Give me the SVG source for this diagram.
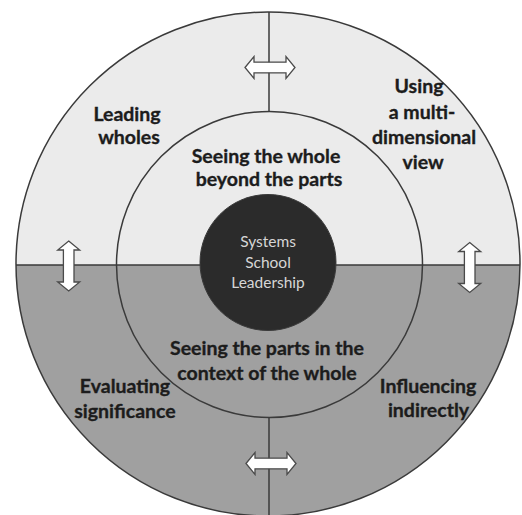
<svg xmlns="http://www.w3.org/2000/svg" width="522" height="515" viewBox="0 0 522 515">
<style>
.lbl{font-family:Lato,"Open Sans","Liberation Sans",sans-serif;font-weight:bold;font-size:19.5px;fill:#1c1c1c;stroke:#1c1c1c;stroke-width:0.35;text-anchor:middle}
.ctr{font-family:Lato,"Open Sans","Liberation Sans",sans-serif;font-size:15.5px;fill:#d6d6d6;text-anchor:middle}
.ln{stroke:#3a3a3a;stroke-width:1.5;fill:none}
.arr{fill:#ffffff;stroke:#4a4a4a;stroke-width:1.3;stroke-linejoin:miter}
</style>
<defs>
<clipPath id="outerClip"><circle cx="268" cy="264" r="252"/></clipPath>
<path id="harr" d="M-25,0 L-16,-11 L-16,-5.3 L16,-5.3 L16,-11 L25,0 L16,11 L16,5.3 L-16,5.3 L-16,11 Z"/>
</defs>
<rect width="522" height="515" fill="#ffffff"/>
<g id="background" clip-path="url(#outerClip)">
<rect x="0" y="0" width="522" height="265" fill="#ebebeb"/>
<rect x="0" y="265" width="522" height="260" fill="#a0a0a0"/>
</g>
<g id="connectors">
<circle class="ln" cx="268" cy="264" r="252"/>
<circle class="ln" cx="269.5" cy="264.5" r="153"/>
<line class="ln" x1="16" y1="265" x2="520" y2="265"/>
<line class="ln" x1="269" y1="12" x2="269" y2="111.5"/>
<line class="ln" x1="269" y1="417.5" x2="269" y2="516"/>
<use href="#harr" class="arr" transform="translate(270,67.5)"/>
<use href="#harr" class="arr" transform="translate(271,463.5)"/>
<use href="#harr" class="arr" transform="translate(68.7,266) rotate(90)"/>
<use href="#harr" class="arr" transform="translate(469.7,267.5) rotate(90)"/>
</g>
<g id="core">
<circle cx="268" cy="262.5" r="68" fill="#2b2b2b" stroke="#3a3a3a" stroke-width="1"/>
<text class="ctr" x="268" y="247">Systems</text>
<text class="ctr" x="268" y="268">School</text>
<text class="ctr" x="268" y="288">Leadership</text>
</g>
<g id="whole-beyond-parts">
<text class="lbl" x="266" y="163">Seeing the whole</text>
<text class="lbl" x="269" y="186">beyond the parts</text>
</g>
<g id="parts-in-context">
<text class="lbl" x="267" y="355">Seeing the parts in the</text>
<text class="lbl" x="267" y="380">context of the whole</text>
</g>
<g id="leading-wholes">
<text class="lbl" x="127" y="121">Leading</text>
<text class="lbl" x="129" y="144">wholes</text>
</g>
<g id="multi-dimensional">
<text class="lbl" x="419" y="93">Using</text>
<text class="lbl" x="422" y="119">a multi-</text>
<text class="lbl" x="424" y="144">dimensional</text>
<text class="lbl" x="423" y="169">view</text>
</g>
<g id="evaluating-significance">
<text class="lbl" x="125" y="393">Evaluating</text>
<text class="lbl" x="125" y="418">significance</text>
</g>
<g id="influencing-indirectly">
<text class="lbl" x="428" y="393">Influencing</text>
<text class="lbl" x="428.5" y="417">indirectly</text>
</g>
</svg>
